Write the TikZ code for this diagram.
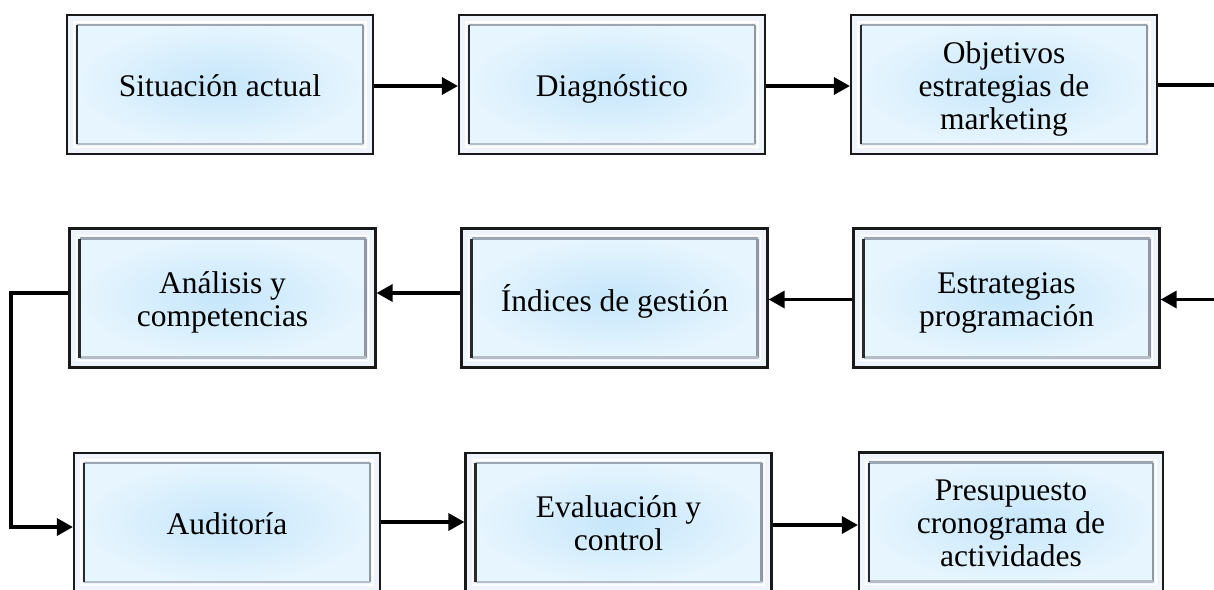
\documentclass[tikz,border=0pt]{standalone}
\usepackage{fontspec}
\setmainfont{Liberation Serif}
\usetikzlibrary{arrows.meta,calc}
\definecolor{bandc}{HTML}{EEF4F9}
\definecolor{innerc}{HTML}{C6E6FB}
\definecolor{outerc}{HTML}{E6F5FE}
\definecolor{bevtop}{HTML}{9CA6B1}
\definecolor{bevright}{HTML}{8E97A2}
\definecolor{bevbot}{HTML}{B5BEC8}
\definecolor{bevleft}{HTML}{2A2A2A}
\newcommand{\tx}[1]{\raisebox{-5pt}[\height][\depth]{\begin{tabular}{@{}c@{}}#1\end{tabular}}}
\tikzset{
  fbox/.style={rectangle, minimum width=306pt, minimum height=139pt, inner sep=0pt,
    font=\fontsize{31.5}{33}\selectfont, fill=bandc, draw=black!90, line width=2.2pt,
    path picture={
      \coordinate (psw) at ([shift={(10pt,10pt)}]path picture bounding box.south west);
      \coordinate (pne) at ([shift={(-10pt,-10pt)}]path picture bounding box.north east);
      \draw[white, line width=1.6pt] ([shift={(-3pt,-3pt)}]psw) rectangle ([shift={(3pt,3pt)}]pne);
      \shade[inner color=innerc, outer color=outerc] (psw) rectangle (pne);
      \draw[bevtop, line width=2.4pt] (psw |- pne) -- (pne);
      \draw[bevright, line width=2.6pt] (pne) -- (pne |- psw);
      \draw[bevbot, line width=2.4pt] (psw) -- (pne |- psw);
      \draw[bevleft, line width=2.6pt] (psw) -- (psw |- pne);
    }},
  conn/.style={line width=3.4pt, black},
  arr/.style={conn, -{Triangle[length=16pt,width=17pt]}}
}
\begin{document}
\begin{tikzpicture}[x=1pt,y=-1pt]
\useasboundingbox (0,0) rectangle (1214,589);
\clip (0,0) rectangle (1214,589);
\node[fbox] (b1) at (220,84.5) {\tx{Situación actual}};
\node[fbox] (b2) at (612,84.5) {\tx{Diagnóstico}};
\node[fbox] (b3) at (1004,84.5) {\tx{Objetivos\\estrategias de\\marketing}};
\node[fbox] (b4) at (222.5,298) {\tx{Análisis y\\competencias}};
\node[fbox] (b5) at (614.5,298) {\tx{Índices de gestión}};
\node[fbox] (b6) at (1006.5,298) {\tx{Estrategias\\programación}};
\node[fbox] (b7) at (227,522.5) {\tx{Auditoría}};
\node[fbox] (b8) at (618.5,522.5) {\tx{Evaluación y\\control}};
\node[fbox, minimum width=304pt] (b9) at (1011,522) {\tx{Presupuesto\\cronograma de\\actividades}};
\coordinate (r1) at (1214,85);
\coordinate (r2) at (1214,299.5);
\coordinate (y1) at (0,86);
\coordinate (y2a) at (0,293);
\coordinate (y3a) at (0,522);
\coordinate (y3b) at (0,525);
\coordinate (l1) at (11,293);
\coordinate (l2) at (11,527);
\draw[arr] (b1.east |- y1) -- (b2.west |- y1);
\draw[arr] (b2.east |- y1) -- (b3.west |- y1);
\draw[conn] (b3.east |- r1) -- (r1);
\draw[arr] (r2) -- (b6.east |- r2);
\draw[arr] (b6.west |- r2) -- (b5.east |- r2);
\draw[arr] (b5.west |- y2a) -- (b4.east |- y2a);
\draw[arr, line join=miter] (b4.west |- l1) -- (l1) -- (l2) -- (b7.west |- l2);
\draw[arr] (b7.east |- y3a) -- (b8.west |- y3a);
\draw[arr] (b8.east |- y3b) -- (b9.west |- y3b);
\end{tikzpicture}
\end{document}
